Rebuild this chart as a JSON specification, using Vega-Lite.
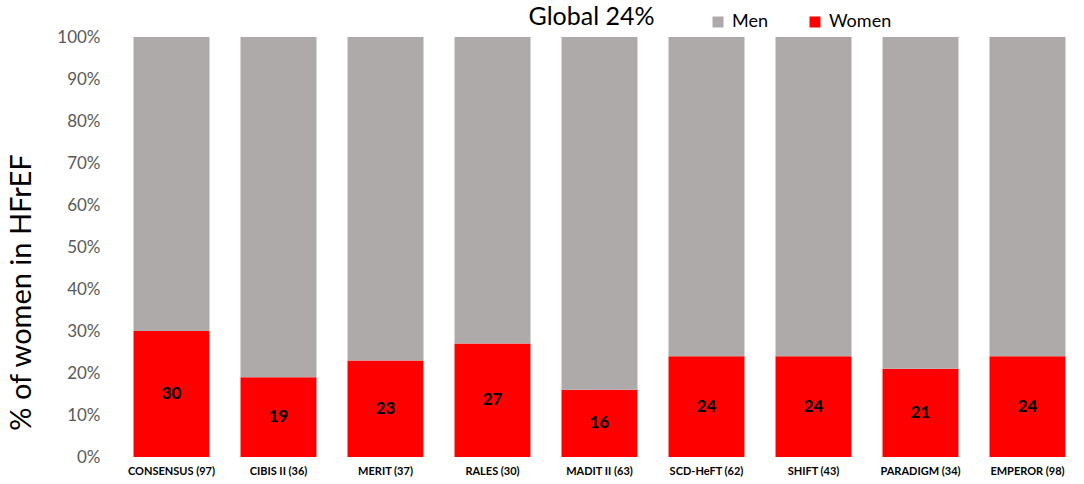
{
  "$schema": "https://vega.github.io/schema/vega-lite/v6.json",
  "width": 963,
  "height": 420,
  "autosize": {"type": "none"},
  "padding": {"left": 118, "top": 37, "right": 3, "bottom": 27},
  "background": "white",
  "config": {"view": {"stroke": null}, "font": "Lato"},
  "title": {"text": "Global 24%", "fontSize": 25, "font": "Lato", "fontWeight": "normal", "color": "#000000", "anchor": "middle", "dx": -8, "offset": -37, "baseline": "alphabetic"},
  "data": {"values": [
    {"trial": "CONSENSUS (97)", "sex": "Women", "pct": 30},
    {"trial": "CONSENSUS (97)", "sex": "Men", "pct": 70},
    {"trial": "CIBIS II (36)", "sex": "Women", "pct": 19},
    {"trial": "CIBIS II (36)", "sex": "Men", "pct": 81},
    {"trial": "MERIT (37)", "sex": "Women", "pct": 23},
    {"trial": "MERIT (37)", "sex": "Men", "pct": 77},
    {"trial": "RALES (30)", "sex": "Women", "pct": 27},
    {"trial": "RALES (30)", "sex": "Men", "pct": 73},
    {"trial": "MADIT II (63)", "sex": "Women", "pct": 16},
    {"trial": "MADIT II (63)", "sex": "Men", "pct": 84},
    {"trial": "SCD-HeFT (62)", "sex": "Women", "pct": 24},
    {"trial": "SCD-HeFT (62)", "sex": "Men", "pct": 76},
    {"trial": "SHIFT (43)", "sex": "Women", "pct": 24},
    {"trial": "SHIFT (43)", "sex": "Men", "pct": 76},
    {"trial": "PARADIGM (34)", "sex": "Women", "pct": 21},
    {"trial": "PARADIGM (34)", "sex": "Men", "pct": 79},
    {"trial": "EMPEROR (98)", "sex": "Women", "pct": 24},
    {"trial": "EMPEROR (98)", "sex": "Men", "pct": 76}
  ]},
  "encoding": {
    "x": {"field": "trial", "type": "nominal", "sort": null,
      "scale": {"paddingInner": 0.29, "paddingOuter": 0.145},
      "axis": {"title": null, "labelAngle": 0, "ticks": false, "domain": false, "labelFont": "Lato", "labelFontSize": 11, "labelFontWeight": "bold", "labelColor": "#000000", "labelPadding": 8}}
  },
  "layer": [
    {
      "mark": {"type": "bar"},
      "encoding": {
        "y": {"field": "pct", "type": "quantitative", "stack": "zero",
          "scale": {"domain": [0, 100], "nice": false},
          "axis": {"title": "% of  women in HFrEF", "values": [0,10,20,30,40,50,60,70,80,90,100], "labelExpr": "datum.value + '%'", "ticks": false, "domain": false, "grid": false, "labelFont": "Lato", "labelFontSize": 17, "labelColor": "#595959", "labelPadding": 18, "titleFont": "Lato", "titleFontSize": 29, "titleFontWeight": "normal", "titleColor": "#000000", "titleX": -88, "titleY": 255, "titleAlign": "center", "titleBaseline": "alphabetic", "titleAngle": -90}},
        "color": {"field": "sex", "type": "nominal",
          "scale": {"domain": ["Men", "Women"], "range": ["#AEAAAA", "#FF0000"]},
          "legend": {"title": null, "orient": "none", "legendX": 591, "legendY": -24, "direction": "horizontal", "symbolType": "square", "symbolSize": 121, "symbolStrokeWidth": 0, "labelFontSize": 18, "labelFont": "Lato", "labelColor": "#000000", "labelOffset": 5, "columnPadding": 38}},
        "order": {"field": "sex", "sort": "descending"}
      }
    },
    {
      "transform": [{"filter": "datum.sex === 'Women'"}],
      "mark": {"type": "text", "fontSize": 17, "fontWeight": "bold", "font": "Lato", "color": "#000000", "baseline": "middle"},
      "encoding": {
        "y": {"field": "pct", "type": "quantitative", "stack": null, "scale": {"domain": [0, 200], "nice": false}, "axis": null},
        "text": {"field": "pct", "type": "quantitative"}
      }
    }
  ],
  "resolve": {"scale": {"y": "independent"}}
}
